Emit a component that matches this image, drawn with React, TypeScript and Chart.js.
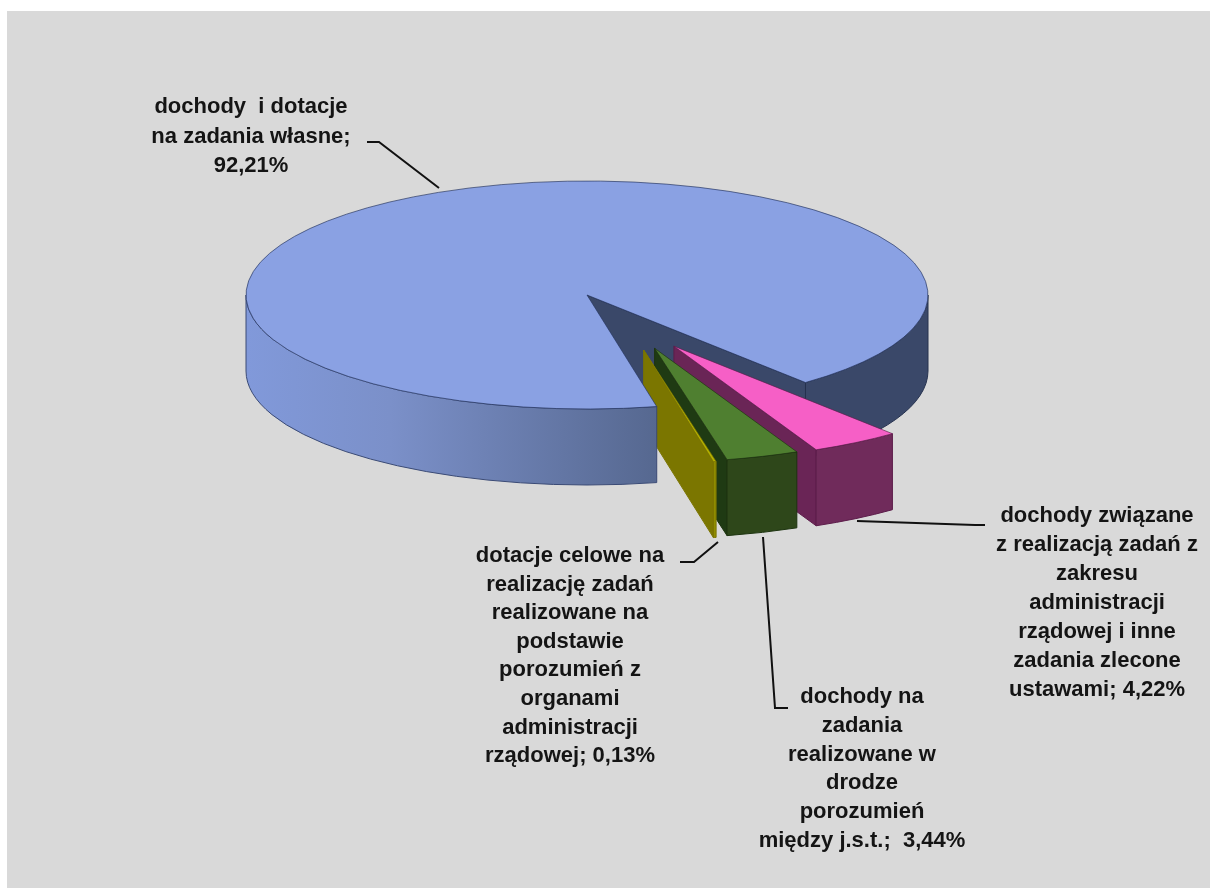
import React, { useEffect, useRef } from "react";
import { Chart, registerables } from "chart.js";

Chart.register(...registerables);

const categories = [
  "dochody i dotacje na zadania własne",
  "dochody związane z realizacją zadań z zakresu administracji rządowej i inne zadania zlecone ustawami",
  "dochody na zadania realizowane w drodze porozumień między j.s.t.",
  "dotacje celowe na realizację zadań realizowane na podstawie porozumień z organami administracji rządowej",
];
const shares = [92.21, 4.22, 3.44, 0.13];
const topColors = ["#8aa1e3", "#f65fc6", "#4f7f30", "#b5b000"];
const topBorders = ["#22325c", "#5c1c4a", "#1d3410", "#7a7400"];
const wallColors = ["#5f7099", "#702b5b", "#2e471a", "#8f8c00"];
const cutColors = ["#3a4869", "#6a2556", "#1f3a13", "#7b7600"];
const explodeDistance = [0, 176, 173, 174];
const explodeAngle = [0, 60.4, 67, 71];

const labelLines = [
  ["dochody  i dotacje", "na zadania własne;", "92,21%"],
  ["dochody związane", "z realizacją zadań z", "zakresu", "administracji", "rządowej i inne", "zadania zlecone", "ustawami; 4,22%"],
  ["dochody na", "zadania", "realizowane w", "drodze", "porozumień", "między j.s.t.;  3,44%"],
  ["dotacje celowe na", "realizację zadań", "realizowane na", "podstawie", "porozumień z", "organami", "administracji", "rządowej; 0,13%"],
];

const W = 1210;
const H = 888;
const CX = 587;
const CY = 295;
const RX = 341;
const SQUASH = 114 / 341;
const DEPTH = 76;
const labelBoxes = [
  { x: 251, y: 107, step: 29.5 },
  { x: 1097, y: 516, step: 29 },
  { x: 862, y: 697, step: 28.8 },
  { x: 570, y: 556, step: 28.6 },
];
const leaders = [
  [[367, 142], [379, 142], [439, 188]],
  [[857, 521], [975, 525], [985, 525]],
  [[763, 537], [775, 708], [788, 708]],
  [[718, 542], [694, 562], [680, 562]],
];

const rad = (d: number) => (d * Math.PI) / 180;

function wallSegments(a1: number, a2: number) {
  const out: { a: number; b: number; turn: number }[] = [];
  for (let n = 0; n < 2; n++) {
    const lo = Math.max(a1, n * 2 * Math.PI);
    const hi = Math.min(a2, n * 2 * Math.PI + Math.PI);
    if (hi > lo) out.push({ a: lo, b: hi, turn: n });
  }
  return out;
}

function paintWall(ctx: CanvasRenderingContext2D, ox: number, oy: number, r: number, a: number, b: number, fill: any, edge: string) {
  const ry = r * SQUASH;
  ctx.beginPath();
  ctx.ellipse(ox, oy, r, ry, 0, a, b);
  ctx.ellipse(ox, oy + DEPTH, r, ry, 0, b, a, true);
  ctx.closePath();
  ctx.fillStyle = fill;
  ctx.fill();
  ctx.strokeStyle = edge;
  ctx.lineWidth = 1;
  ctx.stroke();
}

function paintCut(ctx: CanvasRenderingContext2D, ox: number, oy: number, r: number, ang: number, fill: string, edge: string) {
  const ex = ox + r * Math.cos(ang);
  const ey = oy + r * SQUASH * Math.sin(ang);
  ctx.beginPath();
  ctx.moveTo(ox, oy);
  ctx.lineTo(ex, ey);
  ctx.lineTo(ex, ey + DEPTH);
  ctx.lineTo(ox, oy + DEPTH);
  ctx.closePath();
  ctx.fillStyle = fill;
  ctx.fill();
  ctx.strokeStyle = edge;
  ctx.lineWidth = 1;
  ctx.stroke();
}

const pie3d = {
  id: "pie3d",
  beforeDatasetsDraw(chart: any) {
    const ctx: CanvasRenderingContext2D = chart.ctx;
    const arcs = chart.getDatasetMeta(0).data;
    const origin = (i: number) => ({
      x: CX + explodeDistance[i] * Math.cos(rad(explodeAngle[i])),
      y: CY + explodeDistance[i] * SQUASH * Math.sin(rad(explodeAngle[i])),
    });
    const paintTop = (i: number) => {
      const o = origin(i);
      ctx.save();
      ctx.translate(o.x, o.y);
      ctx.scale(1, SQUASH);
      ctx.translate(-arcs[i].x, -arcs[i].y);
      arcs[i].draw(ctx);
      ctx.restore();
    };

    // main slice: parts that lie behind the exploded slices
    const main = arcs[0];
    const mainO = origin(0);
    wallSegments(main.startAngle, main.endAngle)
      .filter((s) => s.turn === 1)
      .forEach((s) => paintWall(ctx, mainO.x, mainO.y, main.outerRadius, s.a, s.b, cutColors[0], "#26324f"));
    paintCut(ctx, mainO.x, mainO.y, main.outerRadius, main.endAngle, cutColors[0], "#26324f");

    // exploded slices, back to front
    [1, 2, 3].forEach((i) => {
      const arc = arcs[i];
      const o = origin(i);
      paintCut(ctx, o.x, o.y, arc.outerRadius, arc.endAngle, cutColors[i], topBorders[i]);
      wallSegments(arc.startAngle, arc.endAngle).forEach((s) =>
        paintWall(ctx, o.x, o.y, arc.outerRadius, s.a, s.b, wallColors[i], topBorders[i]),
      );
      paintTop(i);
    });

    // main slice: front wall and top face
    const grad = ctx.createLinearGradient(CX - RX, 0, 657, 0);
    grad.addColorStop(0, "#8199da");
    grad.addColorStop(0.35, "#7b90c9");
    grad.addColorStop(1, "#566890");
    wallSegments(main.startAngle, main.endAngle)
      .filter((s) => s.turn === 0)
      .forEach((s) => paintWall(ctx, mainO.x, mainO.y, main.outerRadius, s.a, s.b, grad, "#3a4a75"));
    paintTop(0);
    return false;
  },
  afterDraw(chart: any) {
    const ctx: CanvasRenderingContext2D = chart.ctx;
    ctx.save();
    ctx.strokeStyle = "#111111";
    ctx.lineWidth = 2;
    leaders.forEach((pts) => {
      ctx.beginPath();
      pts.forEach(([x, y], i) => (i ? ctx.lineTo(x, y) : ctx.moveTo(x, y)));
      ctx.stroke();
    });
    ctx.fillStyle = "#141414";
    ctx.font = 'bold 22px "Liberation Sans"';
    ctx.textAlign = "center";
    ctx.textBaseline = "middle";
    labelLines.forEach((lines, i) => {
      const box = labelBoxes[i];
      lines.forEach((line, j) => ctx.fillText(line, box.x, box.y + j * box.step));
    });
    ctx.restore();
  },
};

export default function App() {
  const ref = useRef<HTMLCanvasElement>(null);
  useEffect(() => {
    document.body.style.margin = "0";
    document.body.style.background = "#ffffff";
    const chart = new Chart(ref.current!, {
      type: "pie",
      data: {
        labels: categories,
        datasets: [
          {
            data: shares,
            backgroundColor: topColors,
            borderColor: topBorders,
            borderWidth: 1,
          },
        ],
      },
      options: {
        responsive: false,
        animation: false,
        radius: RX,
        rotation: 168.2,
        layout: { padding: 0 },
        plugins: { legend: { display: false }, tooltip: { enabled: false } },
      } as any,
      plugins: [pie3d as any],
    });
    return () => chart.destroy();
  }, []);
  return (
    <div style={{ position: "absolute", left: 0, top: 0, width: W, height: H, overflow: "hidden" }}>
      <div style={{ position: "absolute", left: 7, top: 11, width: W - 7, height: H - 11, background: "#d9d9d9" }} />
      <canvas ref={ref} width={W} height={H} style={{ position: "absolute", left: 0, top: 0 }} />
    </div>
  );
}
